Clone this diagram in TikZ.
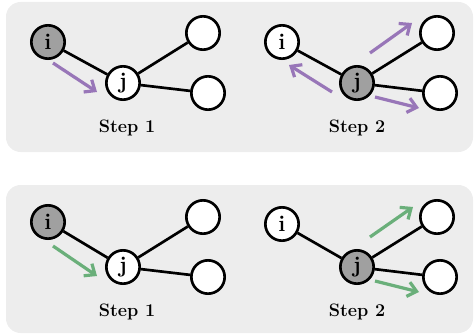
\documentclass[tikz,border=0pt]{standalone}
\usepackage{amssymb, mathtools, amsmath}
\usetikzlibrary{arrows.meta}

\definecolor{panelgray}{RGB}{237,237,237}
\definecolor{nodegray}{RGB}{160,160,160}
\definecolor{msgpurple}{RGB}{152,118,184}
\definecolor{msggreen}{RGB}{106,175,122}

\begin{document}
\begin{tikzpicture}[x=0.75pt,y=0.75pt,yscale=-1,xscale=1,
  vert/.style={circle,draw,line width=2pt,fill=white,minimum size=25pt,inner sep=0pt,font=\fontsize{17}{19}\selectfont\bfseries},
  active/.style={vert,fill=nodegray},
  edge/.style={line width=2pt},
  msg/.style={line width=2.4pt,-{Straight Barb[length=6.5pt,width=11pt,line width=2.4pt]}},
  steplabel/.style={font=\fontsize{13.5}{16}\selectfont\bfseries,inner sep=0.75pt}]
\useasboundingbox (0,0) rectangle (474,335);

%Shape: Rectangle [id:panel top]
\fill [panelgray, rounded corners=11pt] (6,2) rectangle (473,152);
%Shape: Rectangle [id:panel bottom]
\fill [panelgray, rounded corners=11pt] (6,185) rectangle (473,333);

%% top row, step 1
\node [active] (ti1) at (48,42) {i};
\node [vert] (tj1) at (123,83) {j};
\node [vert] (ta1) at (203,33) {};
\node [vert] (tb1) at (208,93) {};
\draw [edge] (ti1) -- (tj1);
\draw [edge] (tj1) -- (ta1);
\draw [edge] (tj1) -- (tb1);
\coordinate (tm1s) at (53,63);
\coordinate (tm1e) at (97,92);
\draw [msg, msgpurple] (tm1s) -- (tm1e);
% Text Node
\node [steplabel] (tl1) at (127,128) {Step 1};

%% top row, step 2
\node [vert] (ti2) at (282,42) {i};
\node [active] (tj2) at (357,83) {j};
\node [vert] (ta2) at (437,33) {};
\node [vert] (tb2) at (440,93) {};
\draw [edge] (ti2) -- (tj2);
\draw [edge] (tj2) -- (ta2);
\draw [edge] (tj2) -- (tb2);
\coordinate (tm2s) at (332,92);
\coordinate (tm2e) at (289,65);
\coordinate (tm3s) at (370,53);
\coordinate (tm3e) at (412,23);
\coordinate (tm4s) at (375,97);
\coordinate (tm4e) at (419,108);
\draw [msg, msgpurple] (tm2s) -- (tm2e);
\draw [msg, msgpurple] (tm3s) -- (tm3e);
\draw [msg, msgpurple] (tm4s) -- (tm4e);
% Text Node
\node [steplabel] (tl2) at (357,128) {Step 2};

%% bottom row, step 1
\node [active] (bi1) at (48,222) {i};
\node [vert] (bj1) at (123,267) {j};
\node [vert] (ba1) at (203,217) {};
\node [vert] (bb1) at (208,277) {};
\draw [edge] (bi1) -- (bj1);
\draw [edge] (bj1) -- (ba1);
\draw [edge] (bj1) -- (bb1);
\coordinate (bm1s) at (53,246);
\coordinate (bm1e) at (97,276);
\draw [msg, msggreen] (bm1s) -- (bm1e);
% Text Node
\node [steplabel] (bl1) at (127,312) {Step 1};

%% bottom row, step 2
\node [vert] (bi2) at (282,224) {i};
\node [active] (bj2) at (357,267) {j};
\node [vert] (ba2) at (437,217) {};
\node [vert] (bb2) at (440,277) {};
\draw [edge] (bi2) -- (bj2);
\draw [edge] (bj2) -- (ba2);
\draw [edge] (bj2) -- (bb2);
\coordinate (bm3s) at (370,237);
\coordinate (bm3e) at (413,207);
\coordinate (bm4s) at (375,281);
\coordinate (bm4e) at (419,292);
\draw [msg, msggreen] (bm3s) -- (bm3e);
\draw [msg, msggreen] (bm4s) -- (bm4e);
% Text Node
\node [steplabel] (bl2) at (357,312) {Step 2};

\end{tikzpicture}
\end{document}
